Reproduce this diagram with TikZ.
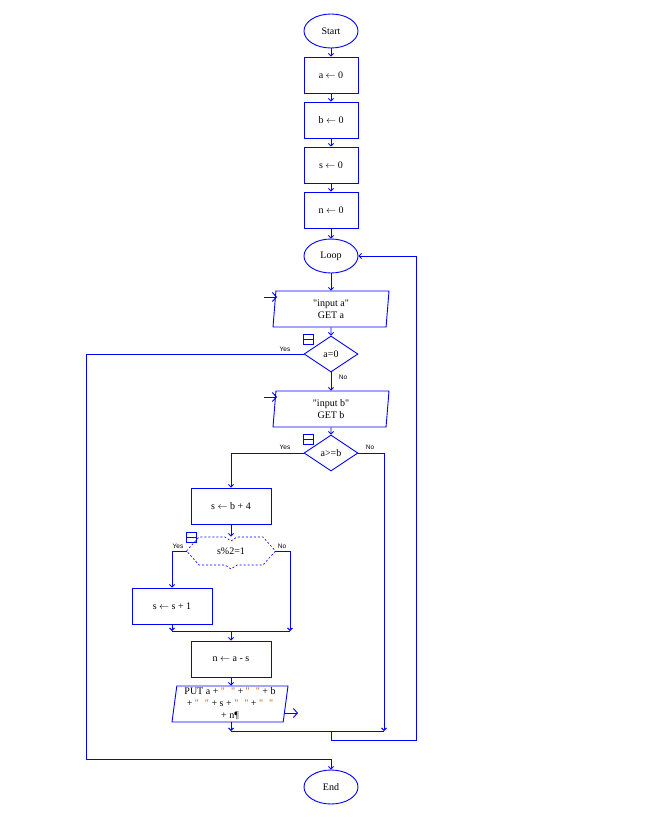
\documentclass[tikz,border=0pt]{standalone}
\usepackage{fontspec}
\setmainfont{Liberation Serif}
\newfontfamily\labfont{Liberation Sans}
\usepackage{xcolor}
\definecolor{flowblue}{RGB}{0, 0, 255}
\definecolor{strbrown}{RGB}{190, 80, 0}
\usetikzlibrary{shapes.geometric,arrows.meta,calc}
\newcommand{\dq}{\textquotedbl}
\newcommand{\qq}{\textcolor{strbrown}{\dq\hspace{6pt}\dq}}
\newcommand{\la}{$\leftarrow$}

\begin{document}
\begin{tikzpicture}[x=1pt, y=-1pt, line width=0.9pt,
    font=\fontsize{10}{12}\selectfont,
    term/.style={draw=flowblue, ellipse, minimum width=54pt, minimum height=34pt, inner sep=0pt},
    proc/.style={draw=flowblue, rectangle, minimum width=54pt, minimum height=36pt},
    iobox/.style={draw=flowblue, trapezium, trapezium left angle=82, trapezium right angle=98,
        trapezium stretches body, minimum width=116pt, minimum height=36pt, align=center, inner sep=1pt},
    cond/.style={draw=flowblue, diamond, minimum width=54pt, minimum height=36pt, inner sep=0pt},
    flow/.style={draw=flowblue, -{Straight Barb[length=2.5pt, width=5pt]}},
    plain/.style={draw=flowblue},
    ioarrow/.style={draw=flowblue, -{Straight Barb[length=4pt, width=9pt]}},
    yn/.style={font=\labfont\fontsize{6.5}{7}\selectfont, inner sep=0pt}]
    \useasboundingbox (0,0) rectangle (646,830);

    % Start and initialisation
    \node[term] (start) at (331,31) {Start};
    \foreach \nm/\y/\v in {a0/75/a, b0/120/b, s0/165/s, n0/210/n} {
        \node[proc] (\nm) at (331,\y) {\v\ \la\ 0};
    }
    \node[term] (loop) at (331,256) {Loop};

    % Input and tests
    \node[iobox] (ina) at (331,309) {\dq input a\dq\\GET a};
    \node[cond] (za) at (331,354) {a=0};
    \node[iobox] (inb) at (331,409) {\dq input b\dq\\GET b};
    \node[cond] (ge) at (331,453) {a>=b};

    % Branch a>=b
    \node[proc, minimum width=80pt] (sb4) at (231,506) {s \la\ b + 4};
    \node[minimum width=88pt, minimum height=28pt, inner sep=0pt] (odd) at (231,551) {s\%2=1};
    \draw[flowblue, dash pattern=on 2pt off 2pt, line width=0.6pt] (odd.west) -- (199,537) -- (225,537) -- (231,541) -- (237,537)
        -- (263,537) -- (odd.east) -- (263,565) -- (237,565) -- (231,569) -- (225,565) -- (199,565) -- cycle;
    \node[proc, minimum width=80pt] (ss1) at (172,606) {s \la\ s + 1};
    \node[proc, minimum width=80pt] (nas) at (231,659) {n \la\ a - s};
    \node[iobox] (put) at (230,704) {PUT a + \qq\ + \qq\ + b\\+ \qq\ + s + \qq\ + \qq\\+ n¶};

    \node[term] (end) at (331,787) {End};

    % Labels
    \node[yn] (y1) at (285,349) {Yes};
    \node[yn] (n1) at (343,377) {No};
    \node[yn] (y2) at (285,447) {Yes};
    \node[yn] (n2) at (370,447) {No};
    \node[yn] (y3) at (178,546) {Yes};
    \node[yn] (n3) at (282,546) {No};

    % Fold marks
    \foreach \x/\y in {303/334, 303/434, 186/532} {
        \draw[flowblue, line width=0.7pt] (\x,\y) rectangle ++(10,10) (\x,\y+5) -- ++(10,0);
    }

    % Merge points
    \coordinate (exitL) at (86,759);
    \coordinate (mR) at (384,731);
    \coordinate (m1L) at (172,631);
    \coordinate (m1R) at (290,631);
    \coordinate (m1) at (231,631);
    \coordinate (m2L) at (231,731);
    \coordinate (m2) at (331,731);
    \coordinate (back) at (416,740);
    \coordinate (inA) at (264,297);
    \coordinate (inAe) at (277,297);
    \coordinate (inB) at (264,397);
    \coordinate (inBe) at (277,397);
    \coordinate (outP) at (284,713);
    \coordinate (outPe) at (298,713);

    % Connectors
    \draw[flow] (start) -- (a0);
    \draw[flow] (a0) -- (b0);
    \draw[flow] (b0) -- (s0);
    \draw[flow] (s0) -- (n0);
    \draw[flow] (n0) -- (loop);
    \draw[flow] (loop) -- (ina);
    \draw[flow] (ina) -- (za);
    \draw[flow] (za) -- (inb);
    \draw[flow] (inb) -- (ge);
    \draw[flow] (za.west) -| (exitL) -| (end.north);
    \draw[flow] (ge.west) -| (sb4.north);
    \draw[flow] (ge.east) -| (mR);
    \draw[flow] (sb4) -- (odd.north);
    \draw[flow] (odd.west) -| (ss1.north);
    \draw[flow] (odd.east) -| (m1R);
    \draw[flow] (ss1) -- (m1L);
    \draw[plain] (m1L) -- (m1R);
    \draw[flow] (m1) -- (nas);
    \draw[flow] (nas) -- (m1 |- put.north);
    \draw[flow] (m1 |- put.south) -- (m2L);
    \draw[plain] (m2L) -- (mR);
    \draw[flow] (m2) |- (back) |- (loop.east);

    % Input / output marks
    \draw[ioarrow] (inA) -- (inAe);
    \draw[ioarrow] (inB) -- (inBe);
    \draw[ioarrow] (outP) -- (outPe);
\end{tikzpicture}
\end{document}
